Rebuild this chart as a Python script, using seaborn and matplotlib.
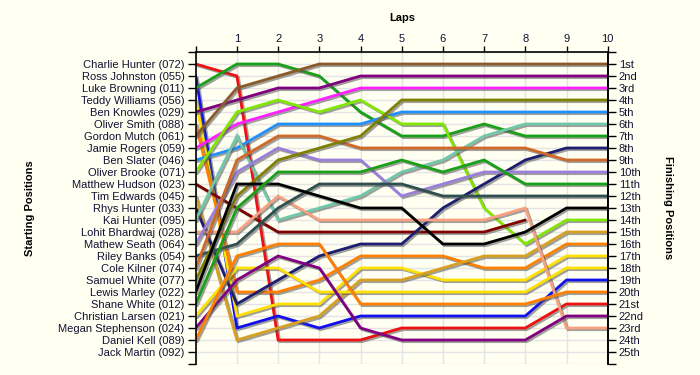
import numpy as np
import pandas as pd
import matplotlib
matplotlib.use("Agg")
import matplotlib.pyplot as plt
import matplotlib.patheffects as pe
import seaborn as sns

laps = [0, 1, 2, 3, 4, 5, 6, 7, 8, 9, 10]

drivers = ["Charlie Hunter (072)", "Ross Johnston (055)", "Luke Browning (011)",
           "Teddy Williams (056)", "Ben Knowles (029)", "Oliver Smith (088)",
           "Gordon Mutch (061)", "Jamie Rogers (059)", "Ben Slater (046)",
           "Oliver Brooke (071)", "Matthew Hudson (023)", "Tim Edwards (045)",
           "Rhys Hunter (033)", "Kai Hunter (095)", "Lohit Bhardwaj (028)",
           "Mathew Seath (064)", "Riley Banks (054)", "Cole Kilner (074)",
           "Samuel White (077)", "Lewis Marley (022)", "Shane White (012)",
           "Christian Larsen (021)", "Megan Stephenson (024)", "Daniel Kell (089)",
           "Jack Martin (092)"]

finish_labels = ["1st", "2nd", "3rd", "4th", "5th", "6th", "7th", "8th", "9th", "10th",
                 "11th", "12th", "13th", "14th", "15th", "16th", "17th", "18th", "19th",
                 "20th", "21st", "22nd", "23rd", "24th", "25th"]

nan = np.nan
charlie_hunter   = [1, 2, 24, 24, 24, 23, 23, 23, 23, 21, 21]
ross_johnston    = [2, 23, 22, 23, 22, 22, 22, 22, 22, 19, 19]
luke_browning    = [3, 1, 1, 2, 5, 7, 7, 6, 7, 7, 7]
teddy_williams   = [4, 22, 21, 21, 18, 18, 19, 19, 19, 17, 17]
ben_knowles      = [5, 4, 3, 3, 2, 2, 2, 2, 2, 2, 2]
oliver_smith     = [6, 20, 20, 19, 17, 17, 17, 18, 18, 16, 16]
gordon_mutch     = [7, 3, 2, 1, 1, 1, 1, 1, 1, 1, 1]
jamie_rogers     = [8, 6, 5, 4, 3, 3, 3, 3, 3, 3, 3]
ben_slater       = [9, 8, 6, 6, 6, 5, 5, 5, 5, 5, 5]
oliver_brooke    = [10, 5, 4, 5, 4, 6, 6, 13, 16, 14, 14]
matthew_hudson   = [11, 13, 15, 15, 15, 15, 15, 15, 14, nan, nan]
tim_edwards      = [12, 24, 23, 22, 19, 19, 18, 17, 17, 15, 15]
rhys_hunter      = [13, 21, 19, 17, 16, 16, 13, 11, 9, 8, 8]
kai_hunter       = [14, 7, 14, 13, 12, 10, 9, 7, 6, 6, 6]
lohit_bhardwaj   = [15, 15, 12, 14, 14, 14, 14, 14, 13, 23, 23]
mathew_seath     = [16, 10, 8, 9, 9, 12, 11, 10, 10, 10, 10]
riley_banks      = [17, 16, 13, 11, 11, 11, 12, 12, 12, 12, 12]
cole_kilner      = [18, 9, 7, 7, 8, 8, 8, 8, 8, 9, 9]
samuel_white     = [19, 12, 9, 8, 7, 4, 4, 4, 4, 4, 4]
lewis_marley     = [20, 11, 11, 12, 13, 13, 16, 16, 15, 13, 13]
shane_white      = [21, 13, 10, 10, 10, 9, 10, 9, 11, 11, 11]
christian_larsen = [22, 18, 18, 20, 20, 20, 20, 20, 20, 18, 18]
megan_stephenson = [23, 19, 17, 18, 23, 24, 24, 24, 24, 22, 22]
daniel_kell      = [24, 17, 16, 16, 21, 21, 21, 21, 21, 20, 20]
jack_martin      = [nan] * 11

colors = ["#ee1111", "#1010ee", "#18a018", "#ffe000", "#800080", "#ff8000",
          "#8b5a2b", "#ff20ff", "#2090ff", "#80e800", "#800000", "#d8a020",
          "#1c1c70", "#70c8a8", "#f8a080", "#9a80dc", "#2f4f4f", "#d06828",
          "#808000", "#000000", "#18a018", "#ffe000", "#800080", "#ff8000",
          "#888888"]

series = [charlie_hunter, ross_johnston, luke_browning, teddy_williams, ben_knowles,
          oliver_smith, gordon_mutch, jamie_rogers, ben_slater, oliver_brooke,
          matthew_hudson, tim_edwards, rhys_hunter, kai_hunter, lohit_bhardwaj,
          mathew_seath, riley_banks, cole_kilner, samuel_white, lewis_marley,
          shane_white, christian_larsen, megan_stephenson, daniel_kell, jack_martin]

rows = []
for name, vals in zip(drivers, series):
    for lap, v in zip(laps, vals):
        rows.append({"driver": name, "lap": lap, "pos": v})
df = pd.DataFrame(rows).dropna()

sns.set_theme(style="white")
plt.rcParams["font.family"] = ["Liberation Sans", "DejaVu Sans"]

bg = "#fffff2"
fig = plt.figure(figsize=(7, 3.75), dpi=100, facecolor=bg)
ax = fig.add_axes([195.7 / 700, 1 - 364 / 375, (607.7 - 195.7) / 700, (364 - 52) / 375])
ax.set_facecolor(bg)

palette = {d: c for d, c in zip(drivers, colors)}
sns.lineplot(data=df, x="lap", y="pos", hue="driver", palette=palette, units="driver",
             estimator=None, sort=False, legend=False, lw=2.0, ax=ax)
for ln in ax.lines:
    ln.set_path_effects([pe.SimpleLineShadow(offset=(1.2, -1.2), shadow_color="#555555", alpha=0.55),
                         pe.Normal()])
    ln.set_solid_joinstyle("miter")

fs = 8
ax.set_xlim(0, 10)
ax.set_ylim(26, 0)
ax.set_xticks(laps)
ax.set_xticklabels([""] + [str(l) for l in laps[1:]])
ax.xaxis.tick_top()
ax.set_yticks(range(0, 27))
ax.set_yticklabels([""] + drivers + [""])
ax.tick_params(axis="x", which="both", top=True, bottom=False, direction="out",
               length=4, width=1, color="black", labelsize=fs, pad=1.5, labelcolor="#111133")
ax.tick_params(axis="y", left=True, direction="out", length=6, width=1, color="black",
               labelsize=fs, pad=2, labelcolor="#111133")
ax.grid(True, color="#e4e4e4", lw=1)
ax.set_axisbelow(True)
ax.set_xlabel("")
ax.set_ylabel("")
for side in ["left", "top", "right"]:
    ax.spines[side].set_visible(True)
    ax.spines[side].set_color("black")
    ax.spines[side].set_linewidth(1.2)
ax.spines["bottom"].set_visible(False)

ax2 = ax.twinx()
ax2.set_ylim(26, 0)
ax2.set_yticks(range(0, 27))
ax2.set_yticklabels([""] + finish_labels + [""])
ax2.tick_params(axis="y", right=True, direction="out", length=6, width=1, color="black",
                labelsize=fs, pad=2, labelcolor="#111133")
for side in ["left", "top", "bottom"]:
    ax2.spines[side].set_visible(False)
ax2.spines["right"].set_color("black")
ax2.spines["right"].set_linewidth(1.2)
ax2.grid(False)

fig.text(402 / 700, 1 - 18 / 375, "Laps", ha="center", va="center",
         fontsize=fs, fontweight="bold", color="black")
fig.text(30 / 700, 1 - 208 / 375, "Starting Positions", ha="center", va="center",
         rotation=90, fontsize=fs, fontweight="bold", color="black")
fig.text(668 / 700, 1 - 208 / 375, "Finishing Positions", ha="center", va="center",
         rotation=-90, fontsize=fs, fontweight="bold", color="black")

fig.savefig("out.png", dpi=100, facecolor=bg)
